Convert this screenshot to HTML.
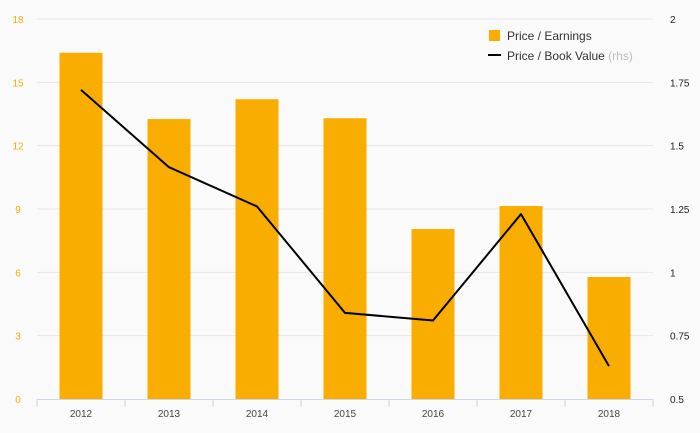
<!DOCTYPE html>
<html><head><meta charset="utf-8"><style>
html,body{margin:0;padding:0;background:#fafafa;}
svg{display:block;font-family:"Liberation Sans",sans-serif;}
</style></head><body>
<svg id="chart" width="700" height="433">
<rect width="700" height="433" fill="#fafafa"/>
<g id="grid"></g><g id="bars"></g><g id="line"></g><g id="axes"></g>
<g>
<rect x="489" y="30" width="11" height="11" fill="#f9ad00"/>
<text x="507" y="40" font-size="12" fill="#333">Price / Earnings</text>
<line x1="488" y1="55" x2="501" y2="55" stroke="#000" stroke-width="2"/>
<text x="507" y="60" font-size="12" fill="#333">Price / Book Value <tspan fill="#bbb">(rhs)</tspan></text>
</g>
</svg>
<script>
const categories=["2012","2013","2014","2015","2016","2017","2018"];
const peValues=[16.4,13.26,14.2,13.3,8.05,9.14,5.78];
const pbValues=[1.72,1.415,1.26,0.84,0.81,1.23,0.63];
const leftTicks=[0,3,6,9,12,15,18];
const rightTicks=["0.5","0.75","1","1.25","1.5","1.75","2"];
const NS="http://www.w3.org/2000/svg";
const x0=37,x1=653,yB=399,yT=19,band=(x1-x0)/categories.length;
const yL=v=>yB-(v/18)*(yB-yT);
const yR=v=>yB-((v-0.5)/1.5)*(yB-yT);
const xc=i=>x0+band*(i+0.5);
function mk(t,a,p){const e=document.createElementNS(NS,t);for(const k in a)e.setAttribute(k,a[k]);p.appendChild(e);return e;}
const G=document.getElementById('grid'),B=document.getElementById('bars'),L=document.getElementById('line'),A=document.getElementById('axes');
leftTicks.forEach((v,i)=>{
 const y=yL(v);
 if(v>0){const g=mk('line',{x1:x0,x2:x1,y1:y,y2:y,stroke:'#e6e6e6','stroke-width':1},G);
 
 }
 const t=mk('text',{x:18,y:y+4,'font-size':10,fill:'#f9ad00','text-anchor':'middle'},A);t.textContent=v;
 
 
 const r=mk('text',{x:670,y:yR(parseFloat(rightTicks[i]))+4,'font-size':10,fill:'#222'},A);r.textContent=rightTicks[i];
 
 
});
const ax=mk('line',{x1:x0,x2:x1,y1:yB+0.5,y2:yB+0.5,stroke:'#ccd6eb'},A);


categories.forEach((c,i)=>{
 const tk=mk('line',{x1:x0+band*i,x2:x0+band*i,y1:yB,y2:yB+8,stroke:'#ccd6eb'},A);
 
 
 const b=mk('rect',{x:xc(i)-21.5,y:yL(peValues[i]),width:43,height:yB-yL(peValues[i]),fill:'#f9ad00'},B);
 
 
 const t=mk('text',{x:xc(i),y:417,'font-size':10,fill:'#444','text-anchor':'middle'},A);t.textContent=c;
 
 
});
const tk=mk('line',{x1:x1,x2:x1,y1:yB,y2:yB+8,stroke:'#ccd6eb'},A);


const pl=mk('polyline',{points:pbValues.map((v,i)=>xc(i)+','+yR(v)).join(' '),fill:'none',stroke:'#000','stroke-width':2,'stroke-linejoin':'round'},L);


</script>
</body></html>
